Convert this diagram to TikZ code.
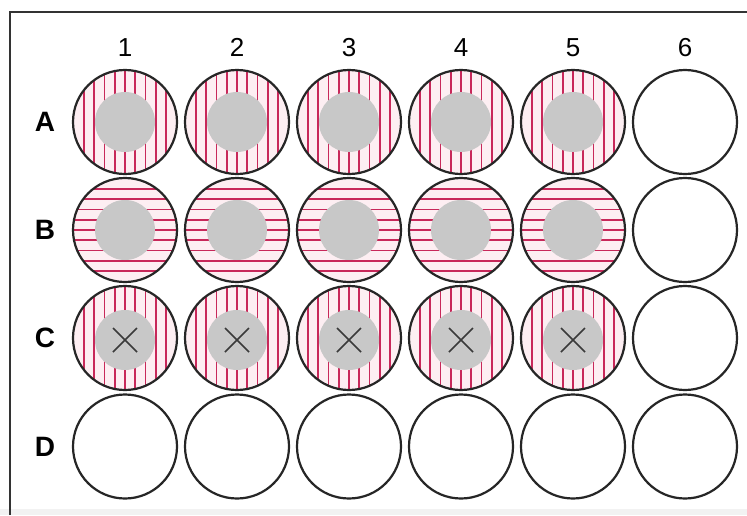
\documentclass[tikz,border=0pt]{standalone}
\usepackage{fontspec}
\setmainfont{Liberation Sans}
\definecolor{wellline}{HTML}{262626}
\definecolor{hatchred}{HTML}{C8285A}
\definecolor{pinkbg}{HTML}{FDEEF2}
\definecolor{spotgray}{HTML}{C8C8C8}
\definecolor{framegray}{HTML}{333333}
\definecolor{stripgray}{HTML}{F2F2F2}
\definecolor{xgray}{HTML}{3A3A3A}
\begin{document}
\begin{tikzpicture}[x=1pt,y=-1pt,
  well/.style={circle, draw=wellline, line width=2.2pt, minimum size=104pt, inner sep=0pt},
  hatchline/.style={draw=hatchred, line width=1.7pt},
  xmark/.style={draw=xgray, line width=1.6pt},
  collabel/.style={font=\fontsize{26}{26}\selectfont, inner sep=0pt},
  rowlabel/.style={font=\fontsize{28}{28}\selectfont\bfseries, inner sep=0pt},
  frameline/.style={draw=framegray, line width=2.4pt},
]
\useasboundingbox (0,0) rectangle (747,515);
\fill[white] (0,0) rectangle (747,515);
\fill[stripgray] (0,509) rectangle (747,515);
\draw[frameline] (10,515) -- (10,12) -- (747,12);

% column labels
\foreach \c/\x in {1/125,2/237,3/349,4/461,5/573,6/685}
  \node[collabel] (col-\c) at (\x,47.5) {\c};

% row labels
\foreach \r/\y in {A/122,B/230,C/338,D/446.5}
  \node[rowlabel] (row-\r) at (45,\y) {\r};

% hatching and spots
\foreach \x in {125,237,349,461,573}{
  % row A: vertical
  \begin{scope}
    \clip (\x,122) circle[radius=52];
    \fill[pinkbg] (\x,122) circle[radius=52];
    \foreach \d in {-5,...,5}
      \draw[hatchline] (\x+\d*10.3,60) -- (\x+\d*10.3,184);
  \end{scope}
  \fill[spotgray] (\x,122) circle[radius=30];
  % row B: horizontal
  \begin{scope}
    \clip (\x,230) circle[radius=52];
    \fill[pinkbg] (\x,230) circle[radius=52];
    \foreach \d in {-5,...,5}
      \draw[hatchline] (\x-60,230+\d*10.3) -- (\x+60,230+\d*10.3);
  \end{scope}
  \fill[spotgray] (\x,230) circle[radius=30];
  % row C: vertical
  \begin{scope}
    \clip (\x,338) circle[radius=52];
    \fill[pinkbg] (\x,338) circle[radius=52];
    \foreach \d in {-5,...,5}
      \draw[hatchline] (\x+\d*10.3,276) -- (\x+\d*10.3,400);
  \end{scope}
  \fill[spotgray] (\x,340) circle[radius=30];
}

% wells
\foreach \c/\x in {1/125,2/237,3/349,4/461,5/573,6/685}{
  \node[well] (w-A-\c) at (\x,122) {};
  \node[well] (w-B-\c) at (\x,230) {};
  \node[well] (w-C-\c) at (\x,338) {};
  \node[well] (w-D-\c) at (\x,446.5) {};
}
\foreach \c in {1,...,5}{
  \draw[xmark] ([shift={(-12,-10)}]w-C-\c.center) -- ([shift={(12,14)}]w-C-\c.center);
  \draw[xmark] ([shift={(12,-10)}]w-C-\c.center) -- ([shift={(-12,14)}]w-C-\c.center);
}
\end{tikzpicture}
\end{document}
